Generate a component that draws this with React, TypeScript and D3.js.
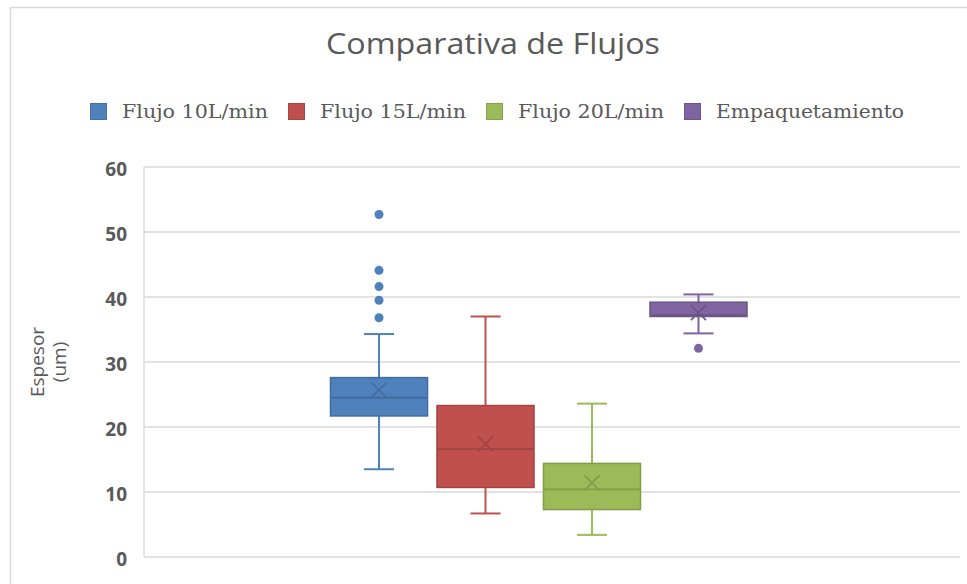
import React from "react";
import * as d3 from "d3";

const series = ["Flujo 10L/min", "Flujo 15L/min", "Flujo 20L/min", "Empaquetamiento"];
const colors = ["#4F81BD", "#C0504D", "#9BBB59", "#8064A2"];
const whiskerLow = [13.5, 6.7, 3.4, 34.4];
const q1 = [21.7, 10.7, 7.3, 37.0];
const median = [24.5, 16.6, 10.4, 37.2];
const q3 = [27.6, 23.3, 14.4, 39.2];
const whiskerHigh = [34.3, 37.0, 23.6, 40.4];
const means = [25.7, 17.4, 11.4, 37.6];
const outliers = [[52.7, 44.1, 41.6, 39.5, 36.8], [], [], [32.1]];
const yTicks = [0, 10, 20, 30, 40, 50, 60];
const legendTextWidths = [146, 146, 146, 188];

const W = 967;
const H = 584;
const plotLeft = 144;
const plotRight = 960;
const plotTop = 167;
const plotBottom = 557;

export default function App() {
  const y = d3.scaleLinear().domain([0, 60]).range([plotBottom, plotTop]);
  const x = d3.scaleBand<string>().domain(series).range([330.5, 747]).paddingInner(0.089).paddingOuter(0);
  const bw = x.bandwidth();
  const capW = bw * 0.31;
  const textGray = "#595959";

  let cursor = 90;
  const legendItems = series.map((s, i) => {
    const item = { s, i, sx: cursor, tx: cursor + 32 };
    cursor = cursor + 32 + legendTextWidths[i] + 20;
    return item;
  });

  return (
    <svg width={W} height={H} style={{ position: "absolute", left: 0, top: 0, background: "#fff" }}>
      <rect x={10.5} y={7.5} width={1000} height={1000} fill="#fff" stroke="#d9d9d9" strokeWidth={1.5} />
      <text
        x={493}
        y={54}
        textAnchor="middle"
        fontFamily="'Open Sans', sans-serif"
        fontSize={30}
        fill={textGray}
        textLength={334}
        lengthAdjust="spacingAndGlyphs"
      >
        Comparativa de Flujos
      </text>
      {legendItems.map((it) => (
        <g key={it.s}>
          <rect x={it.sx + 0.5} y={103.5} width={16} height={16} fill={colors[it.i]} stroke={d3.color(colors[it.i])!.darker(0.4).toString()} strokeWidth={1} />
          <text
            x={it.tx}
            y={118}
            fontFamily="'DejaVu Serif', serif"
            fontSize={19}
            fill={textGray}
            textLength={legendTextWidths[it.i]}
            lengthAdjust="spacingAndGlyphs"
          >
            {it.s}
          </text>
        </g>
      ))}
      {yTicks.map((t) => (
        <g key={t}>
          <line x1={plotLeft} x2={plotRight} y1={y(t)} y2={y(t)} stroke="#d9d9d9" strokeWidth={1.4} />
          <text
            x={127}
            y={y(t) + 2}
            dy="0.35em"
            textAnchor="end"
            fontFamily="'Open Sans', sans-serif"
            fontWeight={700}
            fontSize={19}
            fill={textGray}
          >
            {t}
          </text>
        </g>
      ))}
      <line x1={plotLeft} x2={plotLeft} y1={plotTop} y2={plotBottom} stroke="#d9d9d9" strokeWidth={1.4} />
      <g transform={`translate(45,362) rotate(-90)`}>
        <text x={0} y={-1} textAnchor="middle" fontFamily="'Open Sans', sans-serif" fontSize={19} fill={textGray}>
          Espesor
        </text>
        <text x={0} y={21} textAnchor="middle" fontFamily="'Open Sans', sans-serif" fontSize={19} fill={textGray}>
          (um)
        </text>
      </g>
      {series.map((s, i) => {
        const c = colors[i];
        const dark = d3.color(c)!.darker(0.5).toString();
        const x0 = x(s)!;
        const cx = x0 + bw / 2;
        const m = 7.5;
        return (
          <g key={s}>
            <line x1={cx} x2={cx} y1={y(whiskerHigh[i])} y2={y(q3[i])} stroke={c} strokeWidth={2} />
            <line x1={cx} x2={cx} y1={y(q1[i])} y2={y(whiskerLow[i])} stroke={c} strokeWidth={2} />
            <line x1={cx - capW / 2} x2={cx + capW / 2} y1={y(whiskerHigh[i])} y2={y(whiskerHigh[i])} stroke={c} strokeWidth={2} />
            <line x1={cx - capW / 2} x2={cx + capW / 2} y1={y(whiskerLow[i])} y2={y(whiskerLow[i])} stroke={c} strokeWidth={2} />
            <rect x={x0} y={y(q3[i])} width={bw} height={y(q1[i]) - y(q3[i])} fill={c} stroke={dark} strokeWidth={1.5} />
            <line x1={x0} x2={x0 + bw} y1={y(median[i])} y2={y(median[i])} stroke={dark} strokeWidth={1.8} />
            <path
              d={`M${cx - m},${y(means[i]) - m}L${cx + m},${y(means[i]) + m}M${cx + m},${y(means[i]) - m}L${cx - m},${y(means[i]) + m}`}
              stroke={dark}
              strokeWidth={1.6}
              fill="none"
            />
            {outliers[i].map((v, k) => (
              <circle key={k} cx={cx} cy={y(v)} r={4.5} fill={c} />
            ))}
          </g>
        );
      })}
    </svg>
  );
}
